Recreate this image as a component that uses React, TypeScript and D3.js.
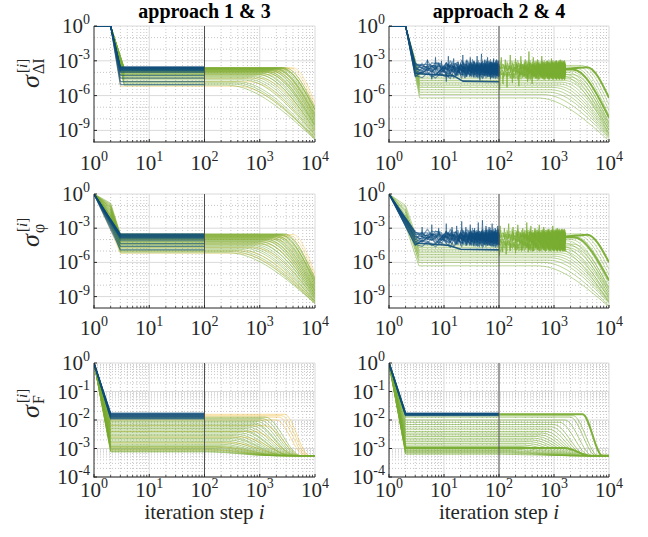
import React from "react";
import * as d3 from "d3";

type Pt = [number, number]; // [iteration step, log10(sigma)]
interface Curve { lin: Pt[]; mono?: Pt[]; color: string; w: number; op: number }

const BLUE = "#0e4d7d";
const GREEN = "#77ac30";
const YELLOW = "#edb120";
const INK = "#262626";
const FONT = "'Liberation Serif', 'Times New Roman', Times, serif";

// axes / text
const xTickExps = [0, 1, 2, 3, 4];
const yTickExpsS = [0, -3, -6, -9];
const yTickExpsF = [0, -1, -2, -3, -4];
const titles = ["approach 1 & 3", "approach 2 & 4"];
const rowSubs = ["ΔI", "φ", "F"];

// ---- data: all curve levels are log10 values ----
const FLOOR_F = -3.25;
// hand-read ripple of the noisy runs (decades)
const jitter = [0.1, -0.18, 0.25, -0.06, 0.14, -0.28, 0.32, -0.12, 0.03, 0.2, -0.3, 0.07, -0.09, 0.27, -0.2, 0.4, -0.05, 0.12, -0.24, 0.15, 0.3, -0.14, 0.05, -0.3, 0.18, 0.45, -0.1, 0.22, -0.35, 0.11, -0.03, 0.26, -0.16, 0.36, -0.22, 0.08, -0.12];

// sigma_dI, approach 1 & 3
const dI13BlueP = [-3.52, -3.55, -3.58, -3.6, -3.62, -3.65, -3.68, -3.7, -3.73, -3.76, -3.8, -3.85, -3.9, -4.0, -4.25, -4.5, -4.8, -5.05];
const dI13GreenP = [-3.58, -3.6, -3.62, -3.64, -3.66, -3.68, -3.7, -3.72, -3.75, -3.78, -3.8, -3.83, -3.86, -3.9, -3.93, -3.96, -4.0, -4.05, -4.1, -4.15, -4.2, -4.28, -4.35, -4.45, -4.55, -4.65, -4.8, -4.9, -5.0, -5.1];
const dI13GreenK = [3.45, 3.4, 3.38, 3.35, 3.4, 3.3, 3.32, 3.28, 3.3, 3.22, 3.25, 3.18, 3.2, 3.12, 3.15, 3.08, 3.1, 3.0, 3.05, 2.95, 2.98, 2.9, 2.85, 2.8, 2.75, 2.7, 2.6, 2.55, 2.5, 2.4];
const dI13GreenE = [-7.0, -7.2, -7.3, -7.5, -7.2, -7.7, -7.6, -7.9, -7.8, -8.1, -8.0, -8.3, -8.2, -8.5, -8.4, -8.6, -8.6, -8.8, -8.7, -8.9, -9.0, -9.1, -9.2, -9.3, -9.4, -9.5, -9.6, -9.7, -9.7, -9.8];
const dI13YellowP = [-3.6, -3.65, -3.7, -3.8, -3.9, -4.0, -4.2, -4.5, -4.8, -5.2];
const dI13YellowK = [3.6, 3.55, 3.5, 3.45, 3.35, 3.3, 3.2, 3.0, 2.8, 2.6];
const dI13YellowE = [-6.6, -6.9, -7.2, -7.5, -7.8, -8.1, -8.5, -9.0, -9.4, -9.7];

// sigma_phi, approach 1 & 3
const phi13BlueP = [-3.5, -3.54, -3.58, -3.62, -3.66, -3.7, -3.74, -3.78, -3.82, -3.88, -3.95, -4.1, -4.35, -4.6, -4.9];
const phi13GreenP = [-3.5, -3.53, -3.56, -3.6, -3.63, -3.66, -3.7, -3.73, -3.77, -3.8, -3.84, -3.88, -3.92, -3.96, -4.0, -4.05, -4.1, -4.16, -4.22, -4.28, -4.35, -4.42, -4.5, -4.58, -4.66, -4.75, -4.85, -4.95, -5.05, -5.15];
const phi13GreenMid = [-0.8, -1.2, -1.6, -2.0, -1.0, -1.4, -1.8, -2.2, -0.9, -1.3, -1.7, -2.1, -2.5, -1.1, -1.5, -1.9, -2.3, -2.6, -1.2, -1.6, -2.0, -2.4, -2.7, -1.4, -1.8, -2.2, -2.5, -2.8, -1.9, -2.6];
const phi13GreenK = [3.45, 3.42, 3.38, 3.35, 3.4, 3.3, 3.32, 3.26, 3.3, 3.2, 3.24, 3.16, 3.2, 3.1, 3.14, 3.06, 3.1, 3.0, 3.04, 2.95, 2.96, 2.9, 2.85, 2.8, 2.75, 2.7, 2.62, 2.55, 2.5, 2.42];
const phi13GreenE = [-7.4, -7.5, -7.7, -7.6, -7.9, -8.0, -7.8, -8.2, -8.1, -8.3, -8.4, -8.5, -8.5, -8.6, -8.7, -8.8, -8.8, -8.9, -9.0, -9.0, -9.1, -9.2, -9.2, -9.3, -9.4, -9.4, -9.5, -9.5, -9.6, -9.6];
const phi13YellowP = [-3.55, -3.65, -3.75, -3.85, -4.0, -4.2, -4.4, -4.7, -5.0, -5.2];
const phi13YellowMid = [-1.0, -1.5, -2.0, -2.5, -1.2, -2.8, -1.8, -3.0, -2.2, -3.2];
const phi13YellowK = [3.6, 3.55, 3.5, 3.4, 3.3, 3.2, 3.1, 2.9, 2.7, 2.6];
const phi13YellowE = [-7.0, -7.3, -7.6, -7.9, -8.2, -8.5, -8.8, -9.1, -9.4, -9.6];

// sigma_F, approach 1 & 3
const F13BlueP = [-1.76, -1.78, -1.8, -1.82, -1.84, -1.86, -1.88, -1.9, -1.93, -1.96];
const F13GreenP = [-1.9, -1.95, -2.0, -2.05, -2.1, -2.15, -2.2, -2.25, -2.3, -2.35, -2.4, -2.45, -2.5, -2.55, -2.6, -2.65, -2.7, -2.75, -2.8, -2.85, -2.9, -2.93, -2.96, -3.0, -3.03, -3.06, -3.1, -3.12];
const F13GreenK = [3.1, 3.05, 3.0, 2.95, 2.9, 2.9, 2.85, 2.8, 2.75, 2.7, 2.7, 2.65, 2.6, 2.55, 2.5, 2.5, 2.45, 2.4, 2.35, 2.3, 2.3, 2.25, 2.2, 2.2, 2.15, 2.1, 2.1, 2.05];
const F13GreenFx = [3.75, 3.72, 3.7, 3.68, 3.66, 3.64, 3.62, 3.6, 3.58, 3.56, 3.55, 3.53, 3.5, 3.48, 3.46, 3.44, 3.42, 3.4, 3.38, 3.36, 3.34, 3.32, 3.3, 3.28, 3.26, 3.24, 3.22, 3.2];
const F13YellowP = [-1.8, -1.85, -1.9, -2.0, -2.2, -2.4, -2.6, -2.8, -2.95, -3.05];
const F13YellowK = [3.45, 3.4, 3.35, 3.3, 3.1, 2.9, 2.7, 2.5, 2.3, 2.2];
const F13YellowFx = [3.9, 3.88, 3.85, 3.82, 3.75, 3.68, 3.6, 3.5, 3.4, 3.3];

// sigma_dI, approach 2 & 4
const dI24BlueBase = [-3.35, -3.42, -3.5, -3.56, -3.62, -3.68, -3.74, -3.8, -3.86, -3.92, -3.98, -4.05, -4.12, -4.2, -3.6, -3.75];
const dI24BlueLowX = [3, 15, 22, 100];
const dI24BlueLowY = [-4.1, -4.3, -4.75, -4.8];
const dI24BlueSpikeX = [5, 7, 9, 12, 15, 18, 22, 26, 30, 35, 40, 48, 55, 62, 70, 80, 90];
const dI24BlueSpikeY = [-2.9, -2.7, -3.0, -2.6, -2.8, -3.1, -2.5, -2.9, -2.7, -3.0, -2.6, -2.4, -2.9, -2.7, -3.1, -2.8, -2.9];
const dI24BlueDipX = [6, 11, 24, 45, 70];
const dI24BlueDipY = [-4.6, -4.8, -4.5, -4.7, -4.6];
const dI24GreenP = [-4.2, -4.4, -4.55, -4.7, -4.85, -5.0, -5.15, -5.3, -5.5, -5.7, -5.9, -6.2];
const dI24GreenK = [3.35, 3.3, 3.25, 3.2, 3.15, 3.1, 3.05, 3.0, 2.95, 2.9, 2.8, 2.7];
const dI24GreenE = [-8.3, -8.5, -8.7, -8.9, -9.0, -9.2, -9.3, -9.4, -9.5, -9.6, -9.7, -9.9];
const dI24NoisyBase = [-3.4, -3.52, -3.64, -3.76, -3.88, -4.0, -4.15, -4.3];
const dI24NoisyK = [3.5, 3.45, 3.4, 3.35, 3.3, 3.25, 3.2, 3.15];
const dI24NoisyE = [-6.8, -7.3, -7.7, -8.0, -8.4, -8.7, -9.0, -9.3];
const dI24GreenSpikeX = [110, 130, 160, 200, 250, 300, 350, 420, 500, 600, 750, 900, 1100, 1300, 1550];
const dI24GreenSpikeY = [-2.7, -2.9, -2.5, -2.8, -2.6, -2.9, -2.2, -2.7, -2.9, -2.6, -3.0, -2.8, -3.0, -2.9, -3.1];
const dI24GreenDipX = [103, 118, 140, 175, 230, 330, 400];
const dI24GreenDipY = [-5.5, -5.0, -5.3, -4.9, -5.2, -4.8, -5.0];
const dI24Bold1X = [1600, 2500, 4000, 10000];
const dI24Bold1Y = [-3.7, -3.62, -3.55, -6.2];
const dI24Bold2X = [1600, 2200, 10000];
const dI24Bold2Y = [-3.75, -3.75, -7.9];

// sigma_phi, approach 2 & 4
const phi24BlueBase = [-3.45, -3.52, -3.6, -3.66, -3.72, -3.78, -3.84, -3.9, -3.96, -4.02, -4.1, -4.18, -4.26, -4.34, -3.7, -3.88];
const phi24BlueLowX = [3, 12, 20, 100];
const phi24BlueLowY = [-4.3, -4.5, -4.85, -4.9];
const phi24BlueSpikeX = [4, 6, 8, 11, 14, 17, 21, 25, 30, 36, 42, 50, 58, 66, 75, 85, 95];
const phi24BlueSpikeY = [-2.9, -2.7, -3.0, -2.6, -2.9, -2.8, -2.4, -2.9, -2.7, -3.0, -2.5, -2.3, -2.8, -2.9, -2.6, -3.0, -2.8];
const phi24GreenP = [-4.4, -4.55, -4.7, -4.85, -5.0, -5.15, -5.3, -5.45, -5.6, -5.8, -6.0, -6.3];
const phi24GreenMid = [-1.0, -1.4, -1.8, -2.2, -1.2, -1.6, -2.0, -2.4, -1.5, -2.6, -1.9, -2.8];
const phi24GreenK = [3.35, 3.3, 3.25, 3.2, 3.15, 3.1, 3.05, 3.0, 2.95, 2.9, 2.8, 2.7];
const phi24GreenE = [-8.2, -8.4, -8.6, -8.8, -9.0, -9.1, -9.3, -9.4, -9.5, -9.6, -9.8, -9.9];
const phi24NoisyBase = [-3.5, -3.62, -3.74, -3.86, -3.98, -4.12, -4.3, -4.5, -4.7];
const phi24NoisyK = [3.5, 3.45, 3.4, 3.35, 3.3, 3.25, 3.2, 3.1, 3.0];
const phi24NoisyE = [-6.6, -7.1, -7.5, -7.9, -8.3, -8.6, -8.9, -9.2, -9.5];
const phi24GreenSpikeX = [105, 125, 150, 180, 220, 270, 320, 380, 450, 540, 650, 800, 950, 1150, 1400];
const phi24GreenSpikeY = [-2.8, -3.0, -2.6, -2.9, -2.7, -3.0, -2.5, -2.8, -3.0, -2.7, -2.9, -3.1, -2.8, -3.0, -3.1];
const phi24GreenDipX = [102, 115, 135, 160, 200, 260, 340, 420];
const phi24GreenDipY = [-5.4, -5.1, -5.3, -5.0, -5.2, -4.9, -5.1, -5.0];
const phi24Bold1X = [1600, 2500, 4000, 10000];
const phi24Bold1Y = [-3.75, -3.65, -3.58, -6.0];
const phi24Bold2X = [1600, 2300, 10000];
const phi24Bold2Y = [-3.8, -3.8, -7.6];

// sigma_F, approach 2 & 4
const F24BlueP = [-1.76, -1.78, -1.8, -1.82, -1.84];
const F24GreenP = [-1.85, -1.9, -2.0, -2.08, -2.16, -2.24, -2.32, -2.4, -2.46, -2.52, -2.58, -2.64, -2.7, -2.76, -2.82, -2.88, -2.93, -2.98, -3.03, -3.07, -3.1, -3.13, -3.16, -3.2];
const F24GreenK = [3.35, 3.3, 3.2, 3.1, 3.0, 2.95, 2.9, 2.85, 2.8, 2.75, 2.7, 2.65, 2.6, 2.55, 2.5, 2.45, 2.4, 2.35, 2.3, 2.25, 2.2, 2.15, 2.1, 2.05];
const F24GreenFx = [3.8, 3.76, 3.7, 3.65, 3.6, 3.57, 3.54, 3.52, 3.5, 3.48, 3.46, 3.44, 3.42, 3.4, 3.38, 3.36, 3.34, 3.32, 3.3, 3.28, 3.26, 3.24, 3.22, 3.2];
const F24BoldP = [-1.8, -2.98];
const F24BoldK = [3.52, 3.2];
const F24BoldFx = [3.88, 3.65];

// ---- layout ----
const W = 648, H = 537;
const colX = [[94, 315], [389, 609]];
const rowY = [[26, 142], [194, 308], [363, 477]];
const xTickBase = [170, 335, 497];
const yLabelY = [88, 247, 418];

const iterBlue = d3.range(3, 101);
const iterGreen = d3.range(100, 1601, 4);

type Head = (p: number, i: number) => Pt[];

function decay(head: Head, P: number[], K: number[], E: number[], color: string, w: number, op: number): Curve[] {
  return P.map((p, i) => ({
    lin: [...head(p, i), [100, p]],
    mono: [[100, p], [10 ** K[i], p], [1e4, E[i]]],
    color, w, op,
  }));
}

function floorDecay(head: Head, P: number[], K: number[], Fx: number[], color: string, w: number, op: number): Curve[] {
  return P.map((p, i) => ({
    lin: [...head(p, i), [100, p]],
    mono: [[100, p], [10 ** K[i], p], [10 ** Fx[i], FLOOR_F], [1e4, FLOOR_F]],
    color, w, op,
  }));
}

function noisy(iters: number[], head: Pt[], base: number, j: number): Pt[] {
  return [...head, ...iters.map((x, i) => [x, base + jitter[(i * 7 + j * 11) % jitter.length]] as Pt)];
}

function spikes(X: number[], Y: number[], base: number, color: string, op: number): Curve[] {
  return X.map((x, i) => ({ lin: [[x / 1.03, base], [x, Y[i]], [x * 1.03, base]] as Pt[], color, w: 1, op }));
}

function zipPts(X: number[], Y: number[]): Pt[] {
  return X.map((x, i) => [x, Y[i]] as Pt);
}

function flatBlue(head: Head, P: number[], w: number, op: number): Curve[] {
  return P.map((p, i) => ({ lin: [...head(p, i), [100, p]], color: BLUE, w, op }));
}

const panels: { row: number; col: number; curves: Curve[] }[] = [
  {
    row: 0, col: 0, curves: [
      ...decay(p => [[1, 0], [2, 0], [3, p]], dI13YellowP, dI13YellowK, dI13YellowE, YELLOW, 1, 0.35),
      ...decay(p => [[1, 0], [2, 0], [3.5, p]], dI13GreenP, dI13GreenK, dI13GreenE, GREEN, 1, 0.5),
      ...flatBlue(p => [[1, 0], [2, 0], [3, p]], dI13BlueP, 1.2, 0.6),
    ],
  },
  {
    row: 1, col: 0, curves: [
      ...decay((p, i) => [[1, 0], [2, phi13YellowMid[i]], [3, p]], phi13YellowP, phi13YellowK, phi13YellowE, YELLOW, 1, 0.35),
      ...decay((p, i) => [[1, 0], [2, phi13GreenMid[i]], [3, p]], phi13GreenP, phi13GreenK, phi13GreenE, GREEN, 1, 0.5),
      ...flatBlue(p => [[1, 0], [3, p]], phi13BlueP, 1.2, 0.6),
    ],
  },
  {
    row: 2, col: 0, curves: [
      ...floorDecay(p => [[1, 0], [2, p]], F13YellowP, F13YellowK, F13YellowFx, YELLOW, 1, 0.45),
      ...floorDecay(p => [[1, 0], [2, p]], F13GreenP, F13GreenK, F13GreenFx, GREEN, 1, 0.55),
      ...flatBlue(p => [[1, 0], [2, p]], F13BlueP, 1.3, 0.65),
    ],
  },
  {
    row: 0, col: 1, curves: [
      ...decay(p => [[1, 0], [2, 0], [3.6, p]], dI24GreenP, dI24GreenK, dI24GreenE, GREEN, 1, 0.5),
      ...dI24NoisyBase.map((b, j) => ({
        lin: noisy(iterGreen, [], b, j),
        mono: [[1600, b], [10 ** dI24NoisyK[j], b], [1e4, dI24NoisyE[j]]] as Pt[],
        color: GREEN, w: 1, op: 0.45,
      })),
      ...spikes(dI24GreenSpikeX, dI24GreenSpikeY, -3.7, GREEN, 0.7),
      ...spikes(dI24GreenDipX, dI24GreenDipY, -4.0, GREEN, 0.7),
      { lin: [], mono: zipPts(dI24Bold1X, dI24Bold1Y), color: GREEN, w: 2, op: 0.95 },
      { lin: [], mono: zipPts(dI24Bold2X, dI24Bold2Y), color: GREEN, w: 2, op: 0.9 },
      ...dI24BlueBase.map((b, j) => ({ lin: noisy(iterBlue, [[1, 0], [2, 0]], b, j), color: BLUE, w: 1.1, op: 0.55 })),
      { lin: zipPts(dI24BlueLowX, dI24BlueLowY), color: BLUE, w: 1.6, op: 0.9 },
      ...spikes(dI24BlueSpikeX, dI24BlueSpikeY, -3.7, BLUE, 0.6),
      ...spikes(dI24BlueDipX, dI24BlueDipY, -3.9, BLUE, 0.6),
    ],
  },
  {
    row: 1, col: 1, curves: [
      ...decay((p, i) => [[1, 0], [2, phi24GreenMid[i]], [3.5, p]], phi24GreenP, phi24GreenK, phi24GreenE, GREEN, 1, 0.5),
      ...phi24NoisyBase.map((b, j) => ({
        lin: noisy(iterGreen, [], b, j),
        mono: [[1600, b], [10 ** phi24NoisyK[j], b], [1e4, phi24NoisyE[j]]] as Pt[],
        color: GREEN, w: 1, op: 0.45,
      })),
      ...spikes(phi24GreenSpikeX, phi24GreenSpikeY, -3.8, GREEN, 0.7),
      ...spikes(phi24GreenDipX, phi24GreenDipY, -4.1, GREEN, 0.7),
      { lin: [], mono: zipPts(phi24Bold1X, phi24Bold1Y), color: GREEN, w: 2, op: 0.95 },
      { lin: [], mono: zipPts(phi24Bold2X, phi24Bold2Y), color: GREEN, w: 2, op: 0.9 },
      ...phi24BlueBase.map((b, j) => ({ lin: noisy(iterBlue, [[1, 0]], b, j), color: BLUE, w: 1.1, op: 0.55 })),
      { lin: zipPts(phi24BlueLowX, phi24BlueLowY), color: BLUE, w: 1.6, op: 0.9 },
      ...spikes(phi24BlueSpikeX, phi24BlueSpikeY, -3.8, BLUE, 0.6),
    ],
  },
  {
    row: 2, col: 1, curves: [
      ...floorDecay(p => [[1, 0], [2, p]], F24GreenP, F24GreenK, F24GreenFx, GREEN, 1, 0.6),
      ...floorDecay(p => [[1, 0], [2, p]], F24BoldP, F24BoldK, F24BoldFx, GREEN, 2, 0.95),
      ...flatBlue(p => [[1, 0], [2, p]], F24BlueP, 1.5, 0.75),
    ],
  },
];

function Exp({ e }: { e: number }) {
  return (
    <>
      10<tspan dy={-9} fontSize={14}>{e}</tspan>
    </>
  );
}

function Panel({ row, col, curves }: { row: number; col: number; curves: Curve[] }) {
  const [x0, x1] = colX[col];
  const [y0, y1] = rowY[row];
  const isF = row === 2;
  const x = d3.scaleLog().domain([1, 1e4]).range([x0, x1]);
  const y = d3.scaleLog().domain(isF ? [1e-4, 1] : [1e-10, 1]).range([y1, y0]);
  const lin = d3.line<Pt>().x(d => x(d[0])).y(d => y(10 ** d[1]));
  const mono = d3.line<Pt>().x(d => x(d[0])).y(d => y(10 ** d[1])).curve(d3.curveMonotoneX);

  const xMinor = d3.range(0, 4).flatMap(e => d3.range(2, 10).map(m => m * 10 ** e));
  const yMajor = isF ? yTickExpsF : yTickExpsS;
  const yMinor = isF
    ? d3.range(-4, 0).flatMap(e => d3.range(2, 10).map(m => m * 10 ** e))
    : d3.range(-9, 0).filter(e => e % 3 !== 0).map(e => 10 ** e);
  const clip = `clip-${row}-${col}`;

  return (
    <g>
      <defs>
        <clipPath id={clip}>
          <rect x={x0} y={y0} width={x1 - x0} height={y1 - y0} />
        </clipPath>
      </defs>
      {/* grid */}
      {xMinor.map((v, i) => (
        <line key={`xm${i}`} x1={x(v)} x2={x(v)} y1={y0} y2={y1} stroke="#b8b8b8" strokeWidth={0.8} strokeDasharray="1 2" />
      ))}
      {yMinor.map((v, i) => (
        <line key={`ym${i}`} x1={x0} x2={x1} y1={y(v)} y2={y(v)} stroke="#b8b8b8" strokeWidth={0.8} strokeDasharray="1 2" />
      ))}
      {xTickExps.slice(1).map(e => (
        <line key={`xg${e}`} x1={x(10 ** e)} x2={x(10 ** e)} y1={y0} y2={y1} stroke="#dadada" strokeWidth={1} />
      ))}
      {yMajor.map(e => (
        <line key={`yg${e}`} x1={x0} x2={x1} y1={y(10 ** e)} y2={y(10 ** e)} stroke="#dadada" strokeWidth={1} />
      ))}
      {/* curves */}
      <g clipPath={`url(#${clip})`} fill="none" strokeLinejoin="round">
        {curves.map((c, i) => (
          <path
            key={i}
            d={(c.lin.length ? lin(c.lin) || "" : "") + (c.mono ? mono(c.mono) || "" : "")}
            stroke={c.color}
            strokeWidth={c.w}
            strokeOpacity={c.op}
          />
        ))}
      </g>
      {/* separator at i = 100 */}
      <line x1={x(100)} x2={x(100)} y1={y0} y2={y1} stroke="#505050" strokeWidth={1} />
      {/* axes */}
      <line x1={x0} x2={x0} y1={y0} y2={y1 + 0.5} stroke={INK} strokeWidth={1} />
      <line x1={x0 - 0.5} x2={x1} y1={y1} y2={y1} stroke={INK} strokeWidth={1} />
      {xTickExps.map(e => (
        <line key={`xt${e}`} x1={x(10 ** e)} x2={x(10 ** e)} y1={y1} y2={y1 - 3} stroke={INK} />
      ))}
      {xMinor.map((v, i) => (
        <line key={`xtm${i}`} x1={x(v)} x2={x(v)} y1={y1} y2={y1 - 2} stroke={INK} strokeWidth={0.8} />
      ))}
      {yMajor.map(e => (
        <line key={`yt${e}`} x1={x0} x2={x0 + 3} y1={y(10 ** e)} y2={y(10 ** e)} stroke={INK} />
      ))}
      {/* tick labels */}
      <g fill={INK} fontSize={21}>
        {xTickExps.map(e => (
          <text key={`xl${e}`} x={x(10 ** e)} y={xTickBase[row]} textAnchor="middle">
            <Exp e={e} />
          </text>
        ))}
        {yMajor.map(e => (
          <text key={`yl${e}`} x={x0 - 4} y={y(10 ** e) + 7} textAnchor="end">
            <Exp e={e} />
          </text>
        ))}
      </g>
      {/* y label */}
      {col === 0 && (
        <g transform={`translate(39, ${yLabelY[row]}) rotate(-90)`} fill={INK}>
          <text x={0} y={0} fontSize={26} fontStyle="italic">σ</text>
          <text x={15} y={-12} fontSize={15}>[<tspan fontStyle="italic">i</tspan>]</text>
          <text x={14} y={5} fontSize={16}>{rowSubs[row]}</text>
        </g>
      )}
    </g>
  );
}

export default function App() {
  return (
    <svg
      width={W}
      height={H}
      viewBox={`0 0 ${W} ${H}`}
      style={{ position: "absolute", left: 0, top: 0, background: "#fff" }}
      fontFamily={FONT}
    >
      <rect width={W} height={H} fill="#fff" />
      {panels.map(p => (
        <Panel key={`${p.row}-${p.col}`} row={p.row} col={p.col} curves={p.curves} />
      ))}
      {titles.map((t, c) => (
        <text key={t} x={(colX[c][0] + colX[c][1]) / 2} y={18} textAnchor="middle" fontWeight="bold" fontSize={20} fill="#000">
          {t}
        </text>
      ))}
      {[0, 1].map(c => (
        <text key={`xlab${c}`} x={(colX[c][0] + colX[c][1]) / 2} y={519} textAnchor="middle" fontSize={21} fill={INK}>
          iteration step <tspan fontStyle="italic">i</tspan>
        </text>
      ))}
    </svg>
  );
}
